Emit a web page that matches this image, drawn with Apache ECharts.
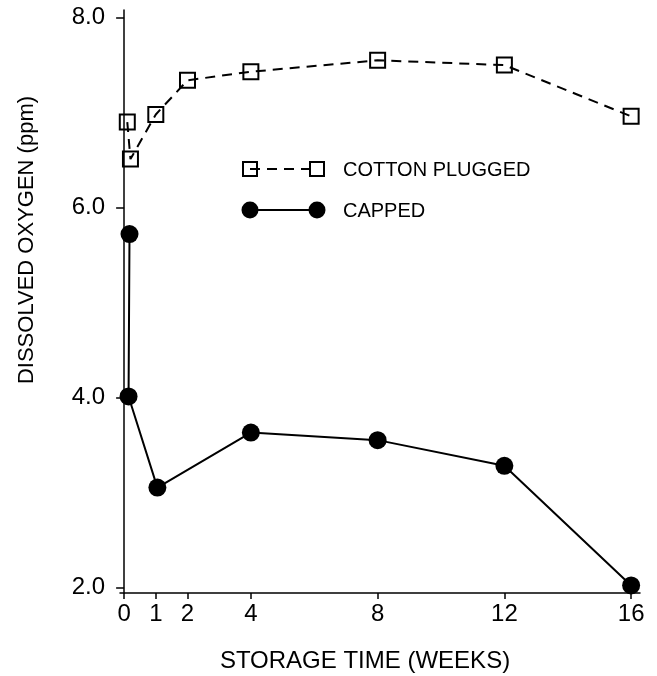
<!DOCTYPE html>
<html>
<head>
<meta charset="utf-8">
<script src="https://cdn.jsdelivr.net/npm/echarts@6/dist/echarts.min.js"></script>
<style>
  html, body { margin: 0; padding: 0; background: #fff; }
  #chart { width: 657px; height: 676px; }
</style>
</head>
<body>
<div id="chart"></div>
<script>
// storage time (weeks) and dissolved oxygen (ppm)
var cottonWeeks = [0.1, 0.2, 1, 2, 4, 8, 12, 16];
var cottonOxygen = [6.90, 6.51, 6.98, 7.34, 7.43, 7.55, 7.50, 6.96];
var cappedWeeks = [0.17, 0.14, 1.05, 4, 8, 12, 16];
var cappedOxygen = [5.72, 4.01, 3.05, 3.63, 3.55, 3.28, 2.02];
var xTicks = [0, 1, 2, 4, 8, 12, 16];
var yTicks = [2, 4, 6, 8];

var FONT = 'Liberation Sans';

function pairs(xs, ys){
    var out = [];
    for(var i = 0; i < xs.length; i++){
        out.push([xs[i], ys[i]]);
    }
    return out;
}

var chart = echarts.init(document.getElementById('chart'));

chart.setOption({
    animation: false,
    backgroundColor: '#fff',
    grid: { left: 120, top: 10, right: 17, bottom: 83 },
    xAxis: {
        type: 'value',
        min: -0.13,
        max: 16.28,
        splitLine: { show: false },
        axisLine: { lineStyle: { color: '#000', width: 1.5 } },
        axisTick: { customValues: xTicks, length: 6, lineStyle: { color: '#000', width: 1.5 } },
        axisLabel: {
            customValues: xTicks,
            color: '#000', fontFamily: FONT, fontSize: 24, margin: 9
        }
    },
    yAxis: {
        type: 'value',
        min: 1.94,
        max: 8.08,
        splitLine: { show: false },
        axisLine: { show: true, lineStyle: { color: '#000', width: 1.5 } },
        axisTick: { show: true, customValues: yTicks, length: 8, lineStyle: { color: '#000', width: 1.5 } },
        axisLabel: {
            customValues: yTicks,
            color: '#000', fontFamily: FONT, fontSize: 24, margin: 15,
            formatter: function(v){ return v.toFixed(1); }
        }
    },
    graphic: [
        // axis titles
        { type: 'text', x: 365, y: 661,
          style: { text: 'STORAGE TIME (WEEKS)', fill: '#000', font: '24px ' + FONT, align: 'center', verticalAlign: 'middle' } },
        { type: 'text', x: 27, y: 240, rotation: Math.PI / 2,
          style: { text: 'DISSOLVED OXYGEN (ppm)', fill: '#000', font: '22px ' + FONT, align: 'center', verticalAlign: 'middle' } },
        // legend: cotton plugged
        { type: 'rect', shape: { x: 243, y: 162, width: 14, height: 14 }, style: { fill: 'none', stroke: '#000', lineWidth: 2 } },
        { type: 'line', shape: { x1: 250, y1: 169, x2: 317, y2: 169 }, style: { stroke: '#000', lineWidth: 2, lineDash: [10, 7] } },
        { type: 'rect', shape: { x: 310, y: 162, width: 14, height: 14 }, style: { fill: 'none', stroke: '#000', lineWidth: 2 } },
        { type: 'text', x: 343, y: 170,
          style: { text: 'COTTON PLUGGED', fill: '#000', font: '20px ' + FONT, verticalAlign: 'middle' } },
        // legend: capped
        { type: 'line', shape: { x1: 250, y1: 210, x2: 317, y2: 210 }, style: { stroke: '#000', lineWidth: 2 } },
        { type: 'circle', shape: { cx: 250, cy: 210, r: 8.5 }, style: { fill: '#000' } },
        { type: 'circle', shape: { cx: 317, cy: 210, r: 8.5 }, style: { fill: '#000' } },
        { type: 'text', x: 343, y: 211,
          style: { text: 'CAPPED', fill: '#000', font: '20px ' + FONT, verticalAlign: 'middle' } }
    ],
    series: [
        {
            name: 'COTTON PLUGGED',
            type: 'line',
            data: pairs(cottonWeeks, cottonOxygen),
            symbol: 'rect',
            symbolSize: 15,
            itemStyle: { color: 'rgba(0,0,0,0)', borderColor: '#000', borderWidth: 2 },
            lineStyle: { color: '#000', width: 2, type: [10, 7] }
        },
        {
            name: 'CAPPED',
            type: 'line',
            data: pairs(cappedWeeks, cappedOxygen),
            symbol: 'circle',
            symbolSize: 18,
            itemStyle: { color: '#000' },
            lineStyle: { color: '#000', width: 2 }
        }
    ]
});
</script>
</body>
</html>
